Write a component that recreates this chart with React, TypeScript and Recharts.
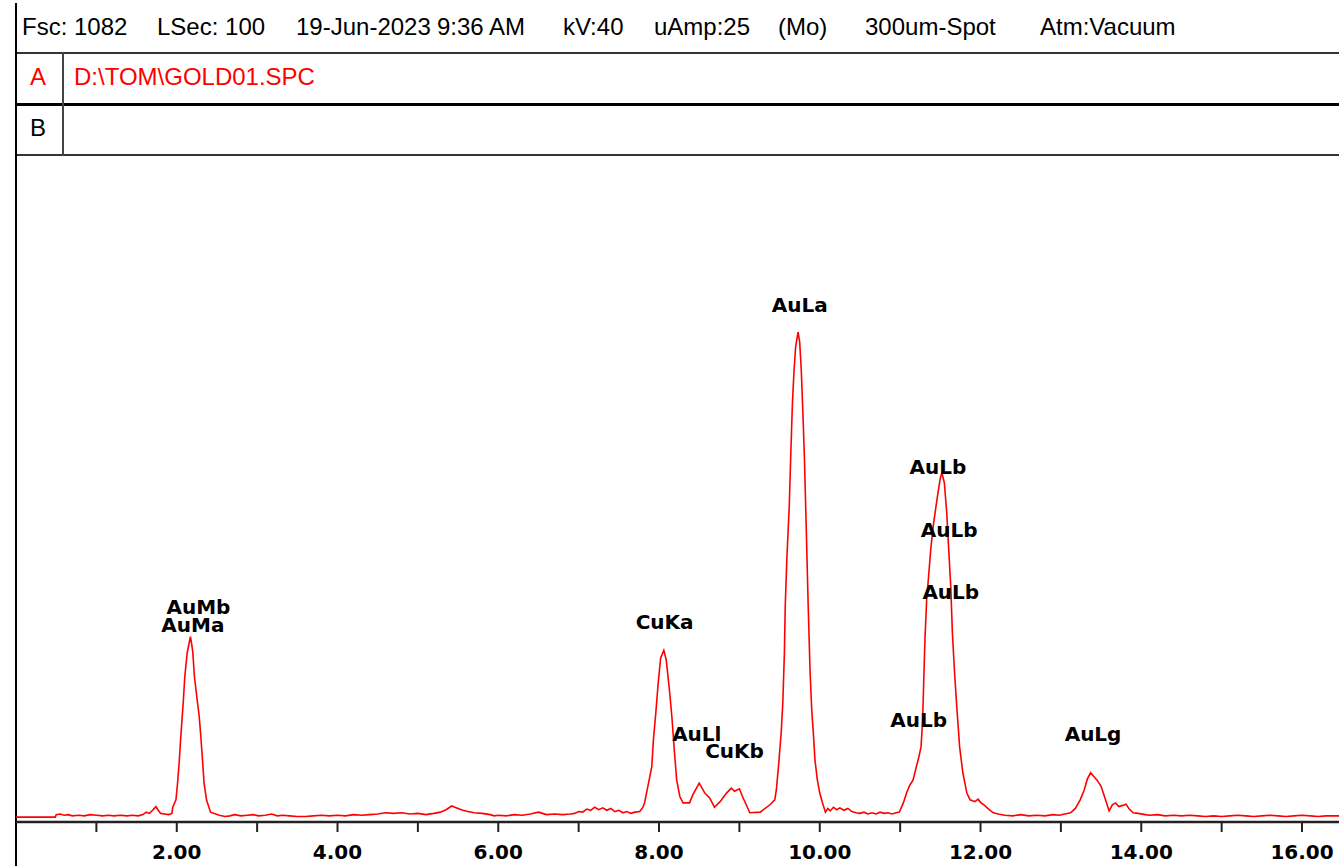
import React from "react";
import { LineChart, Line, XAxis, YAxis, ReferenceDot } from "recharts";

// spectrum as [keV, counts]
const lowBaseline = [
	[0, 8], [0.49, 8], [0.5, 12], [0.55, 13], [0.6, 11], [0.65, 12], [0.7, 10], [0.78, 11],
	[0.85, 10], [0.92, 12], [1.0, 11], [1.08, 10], [1.15, 11], [1.22, 10], [1.3, 11], [1.38, 10],
	[1.45, 11], [1.52, 10], [1.58, 12], [1.62, 16], [1.66, 14], [1.7, 19], [1.74, 25], [1.77, 19],
	[1.8, 14], [1.85, 13], [1.9, 12], [1.94, 14],
];

const auMPeak = [
	[1.95, 24], [1.99, 36], [2.01, 63], [2.03, 96], [2.045, 128], [2.065, 166], [2.08, 193],
	[2.1, 236], [2.13, 275], [2.15, 288], [2.17, 301], [2.185, 290], [2.2, 275], [2.22, 236],
	[2.25, 203], [2.28, 171], [2.3, 138], [2.32, 101], [2.34, 63], [2.37, 36], [2.42, 16], [2.53, 11],
];

const midBaseline = [
	[2.6, 9], [2.66, 10], [2.72, 12], [2.8, 10], [2.88, 11], [2.95, 12], [3.02, 10], [3.1, 11],
	[3.18, 13], [3.25, 10], [3.32, 11], [3.4, 10], [3.5, 9], [3.6, 9], [3.7, 10], [3.8, 11],
	[3.9, 10], [4.0, 11], [4.1, 10], [4.2, 12], [4.3, 11], [4.4, 12], [4.5, 13], [4.6, 15],
	[4.7, 14], [4.8, 15], [4.9, 13], [5.0, 14], [5.1, 12], [5.2, 14], [5.28, 16], [5.35, 20],
	[5.42, 26], [5.46, 24], [5.5, 22], [5.56, 19], [5.62, 17], [5.7, 15], [5.8, 14], [5.9, 12],
	[5.95, 10], [6.0, 11], [6.1, 10], [6.2, 12], [6.3, 11], [6.4, 13], [6.5, 16], [6.55, 14],
	[6.6, 12], [6.7, 13], [6.8, 12], [6.9, 13], [6.95, 14], [7.0, 17], [7.05, 16], [7.1, 21],
	[7.15, 19], [7.2, 24], [7.25, 20], [7.3, 23], [7.35, 19], [7.4, 22], [7.45, 17], [7.5, 19],
	[7.55, 15], [7.6, 17], [7.65, 14], [7.7, 16], [7.76, 17], [7.8, 24],
];

const cuKPeaks = [
	[7.82, 31], [7.86, 57], [7.91, 90], [7.93, 133], [7.96, 177], [7.99, 226], [8.02, 266],
	[8.06, 279], [8.09, 263], [8.13, 214], [8.16, 171], [8.19, 117], [8.22, 68], [8.26, 41],
	[8.3, 31], [8.38, 31], [8.42, 44], [8.5, 63], [8.57, 47], [8.63, 39], [8.69, 24], [8.76, 33],
	[8.84, 47], [8.9, 55], [8.94, 50], [9.0, 54], [9.04, 41], [9.13, 15], [9.26, 16], [9.38, 28],
	[9.44, 36],
];

const auLaPeak = [
	[9.46, 52], [9.49, 96], [9.52, 145], [9.54, 193], [9.56, 275], [9.57, 349], [9.59, 426],
	[9.62, 512], [9.64, 600], [9.66, 681], [9.68, 734], [9.7, 772], [9.73, 796], [9.75, 780],
	[9.77, 734], [9.79, 665], [9.81, 588], [9.83, 486], [9.855, 356], [9.88, 242], [9.9, 182],
	[9.92, 145], [9.94, 101], [9.97, 68], [10.0, 47], [10.03, 33], [10.07, 16],
];

const gapBaseline = [
	[10.1, 22], [10.13, 18], [10.17, 24], [10.21, 20], [10.25, 23], [10.3, 19], [10.35, 22],
	[10.4, 17], [10.45, 15], [10.5, 14], [10.55, 16], [10.6, 13], [10.65, 15], [10.7, 13],
	[10.75, 16], [10.8, 14], [10.85, 15], [10.9, 13], [10.95, 15],
];

const auLbPeak = [
	[10.99, 16], [11.04, 31], [11.08, 47], [11.12, 60], [11.16, 68], [11.2, 89], [11.23, 104],
	[11.26, 122], [11.28, 166], [11.295, 236], [11.31, 301], [11.33, 361], [11.36, 409],
	[11.38, 442], [11.41, 479], [11.445, 512], [11.47, 534], [11.5, 559], [11.52, 567],
	[11.55, 551], [11.58, 502], [11.6, 453], [11.63, 382], [11.65, 307], [11.68, 236],
	[11.71, 177], [11.74, 122], [11.78, 80], [11.83, 47], [11.87, 36], [11.93, 33], [11.97, 37],
	[12.0, 32], [12.05, 27], [12.1, 21], [12.16, 15],
];

const highBaseline = [
	[12.22, 13], [12.3, 11], [12.4, 10], [12.5, 12], [12.6, 10], [12.7, 11], [12.8, 10],
	[12.9, 12], [12.98, 11], [13.05, 13], [13.12, 15], [13.18, 22], [13.24, 36], [13.29, 52],
	[13.33, 70], [13.37, 80], [13.41, 74], [13.45, 68], [13.5, 58], [13.55, 38], [13.6, 18],
	[13.64, 28], [13.68, 31], [13.72, 25], [13.77, 27], [13.81, 29], [13.85, 21], [13.9, 15],
	[13.96, 14], [14.05, 12], [14.1, 11], [14.2, 12], [14.3, 10], [14.4, 11], [14.5, 10],
	[14.6, 11], [14.7, 10], [14.8, 9], [14.9, 10], [15.0, 9], [15.1, 10], [15.2, 11], [15.3, 10],
	[15.4, 9], [15.5, 10], [15.6, 11], [15.7, 10], [15.8, 9], [15.9, 10], [16.0, 11], [16.1, 10],
	[16.2, 9], [16.3, 10], [16.46, 10],
];

// peak markers: name, energy, label height (counts)
const markers = [
	{ name: "AuMb", keV: 2.27, counts: 349 },
	{ name: "AuMa", keV: 2.2, counts: 320 },
	{ name: "CuKa", keV: 8.07, counts: 325 },
	{ name: "AuLl", keV: 8.47, counts: 143 },
	{ name: "CuKb", keV: 8.94, counts: 115 },
	{ name: "AuLa", keV: 9.75, counts: 840 },
	{ name: "AuLb", keV: 11.47, counts: 577 },
	{ name: "AuLb", keV: 11.61, counts: 474 },
	{ name: "AuLb", keV: 11.63, counts: 374 },
	{ name: "AuLb", keV: 11.23, counts: 166 },
	{ name: "AuLg", keV: 13.4, counts: 143 },
];

const xTicks = [1, 2, 3, 4, 5, 6, 7, 8, 9, 10, 11, 12, 13, 14, 15, 16];

const headerItems = [
	{ text: "Fsc: 1082", x: 22 },
	{ text: "LSec: 100", x: 157 },
	{ text: "19-Jun-2023", x: 296 },
	{ text: "9:36 AM", x: 437 },
	{ text: "kV:40", x: 563 },
	{ text: "uAmp:25", x: 654 },
	{ text: "(Mo)", x: 778 },
	{ text: "300um-Spot", x: 865 },
	{ text: "Atm:Vacuum", x: 1040 },
];

const spectrum = [
	...lowBaseline,
	...auMPeak,
	...midBaseline,
	...cuKPeaks,
	...auLaPeak,
	...gapBaseline,
	...auLbPeak,
	...highBaseline,
].map(([keV, counts]) => ({ keV, counts }));

const headFont = "'Liberation Sans', Arial, sans-serif";
const labelFont = "'DejaVu Sans', sans-serif";

const abs = (s: React.CSSProperties): React.CSSProperties => ({ position: "absolute", ...s });

export default function App() {
	return (
		<div style={abs({ left: 0, top: 0, width: 1339, height: 866, background: "#fff", overflow: "hidden" })}>
			{/* header rows */}
			{headerItems.map((h) => (
				<div
					key={h.text}
					style={abs({ left: h.x, top: 15, fontFamily: headFont, fontSize: 24, lineHeight: "24px", color: "#000", whiteSpace: "nowrap" })}
				>
					{h.text}
				</div>
			))}
			<div style={abs({ left: 16, top: 52, width: 1323, height: 2, background: "#333" })} />
			<div style={abs({ left: 30, top: 65, fontFamily: headFont, fontSize: 24, lineHeight: "24px", color: "#f00" })}>A</div>
			<div style={abs({ left: 74, top: 65, fontFamily: headFont, fontSize: 24, lineHeight: "24px", color: "#f00", whiteSpace: "nowrap" })}>
				D:\TOM\GOLD01.SPC
			</div>
			<div style={abs({ left: 16, top: 103, width: 1323, height: 3, background: "#000" })} />
			<div style={abs({ left: 30, top: 116, fontFamily: headFont, fontSize: 24, lineHeight: "24px", color: "#000" })}>B</div>
			<div style={abs({ left: 16, top: 154, width: 1323, height: 2, background: "#333" })} />
			<div style={abs({ left: 62, top: 52, width: 2, height: 104, background: "#444" })} />
			<div style={abs({ left: 15, top: 3, width: 2, height: 863, background: "#000" })} />

			<div style={abs({ left: 0, top: 156 })}>
				<LineChart width={1339} height={710} data={spectrum} margin={{ top: 0, right: 0, bottom: 0, left: 16 }}>
					<XAxis
						dataKey="keV"
						type="number"
						domain={[0, 16.46]}
						ticks={xTicks}
						interval={0}
						allowDataOverflow
						height={44}
						axisLine={{ stroke: "#222", strokeWidth: 2.5 }}
						tickLine={{ stroke: "#222", strokeWidth: 2 }}
						tickSize={10}
						tickMargin={13}
						tick={{ fill: "#000", fontSize: 20, fontFamily: labelFont, fontWeight: "bold" }}
						tickFormatter={(v: number) => (v % 2 === 0 ? v.toFixed(2) : "")}
					/>
					<YAxis hide domain={[0, 1082]} />
					<Line
						type="linear"
						dataKey="counts"
						stroke="#ff0000"
						strokeWidth={1.6}
						dot={false}
						isAnimationActive={false}
					/>
					{markers.map((m, i) => (
						<ReferenceDot
							key={i}
							x={m.keV}
							y={m.counts}
							r={0}
							fill="none"
							stroke="none"
							ifOverflow="visible"
							label={{ value: m.name, position: "center", fill: "#000", fontSize: 20, fontFamily: labelFont, fontWeight: "bold" }}
						/>
					))}
				</LineChart>
			</div>
		</div>
	);
}
